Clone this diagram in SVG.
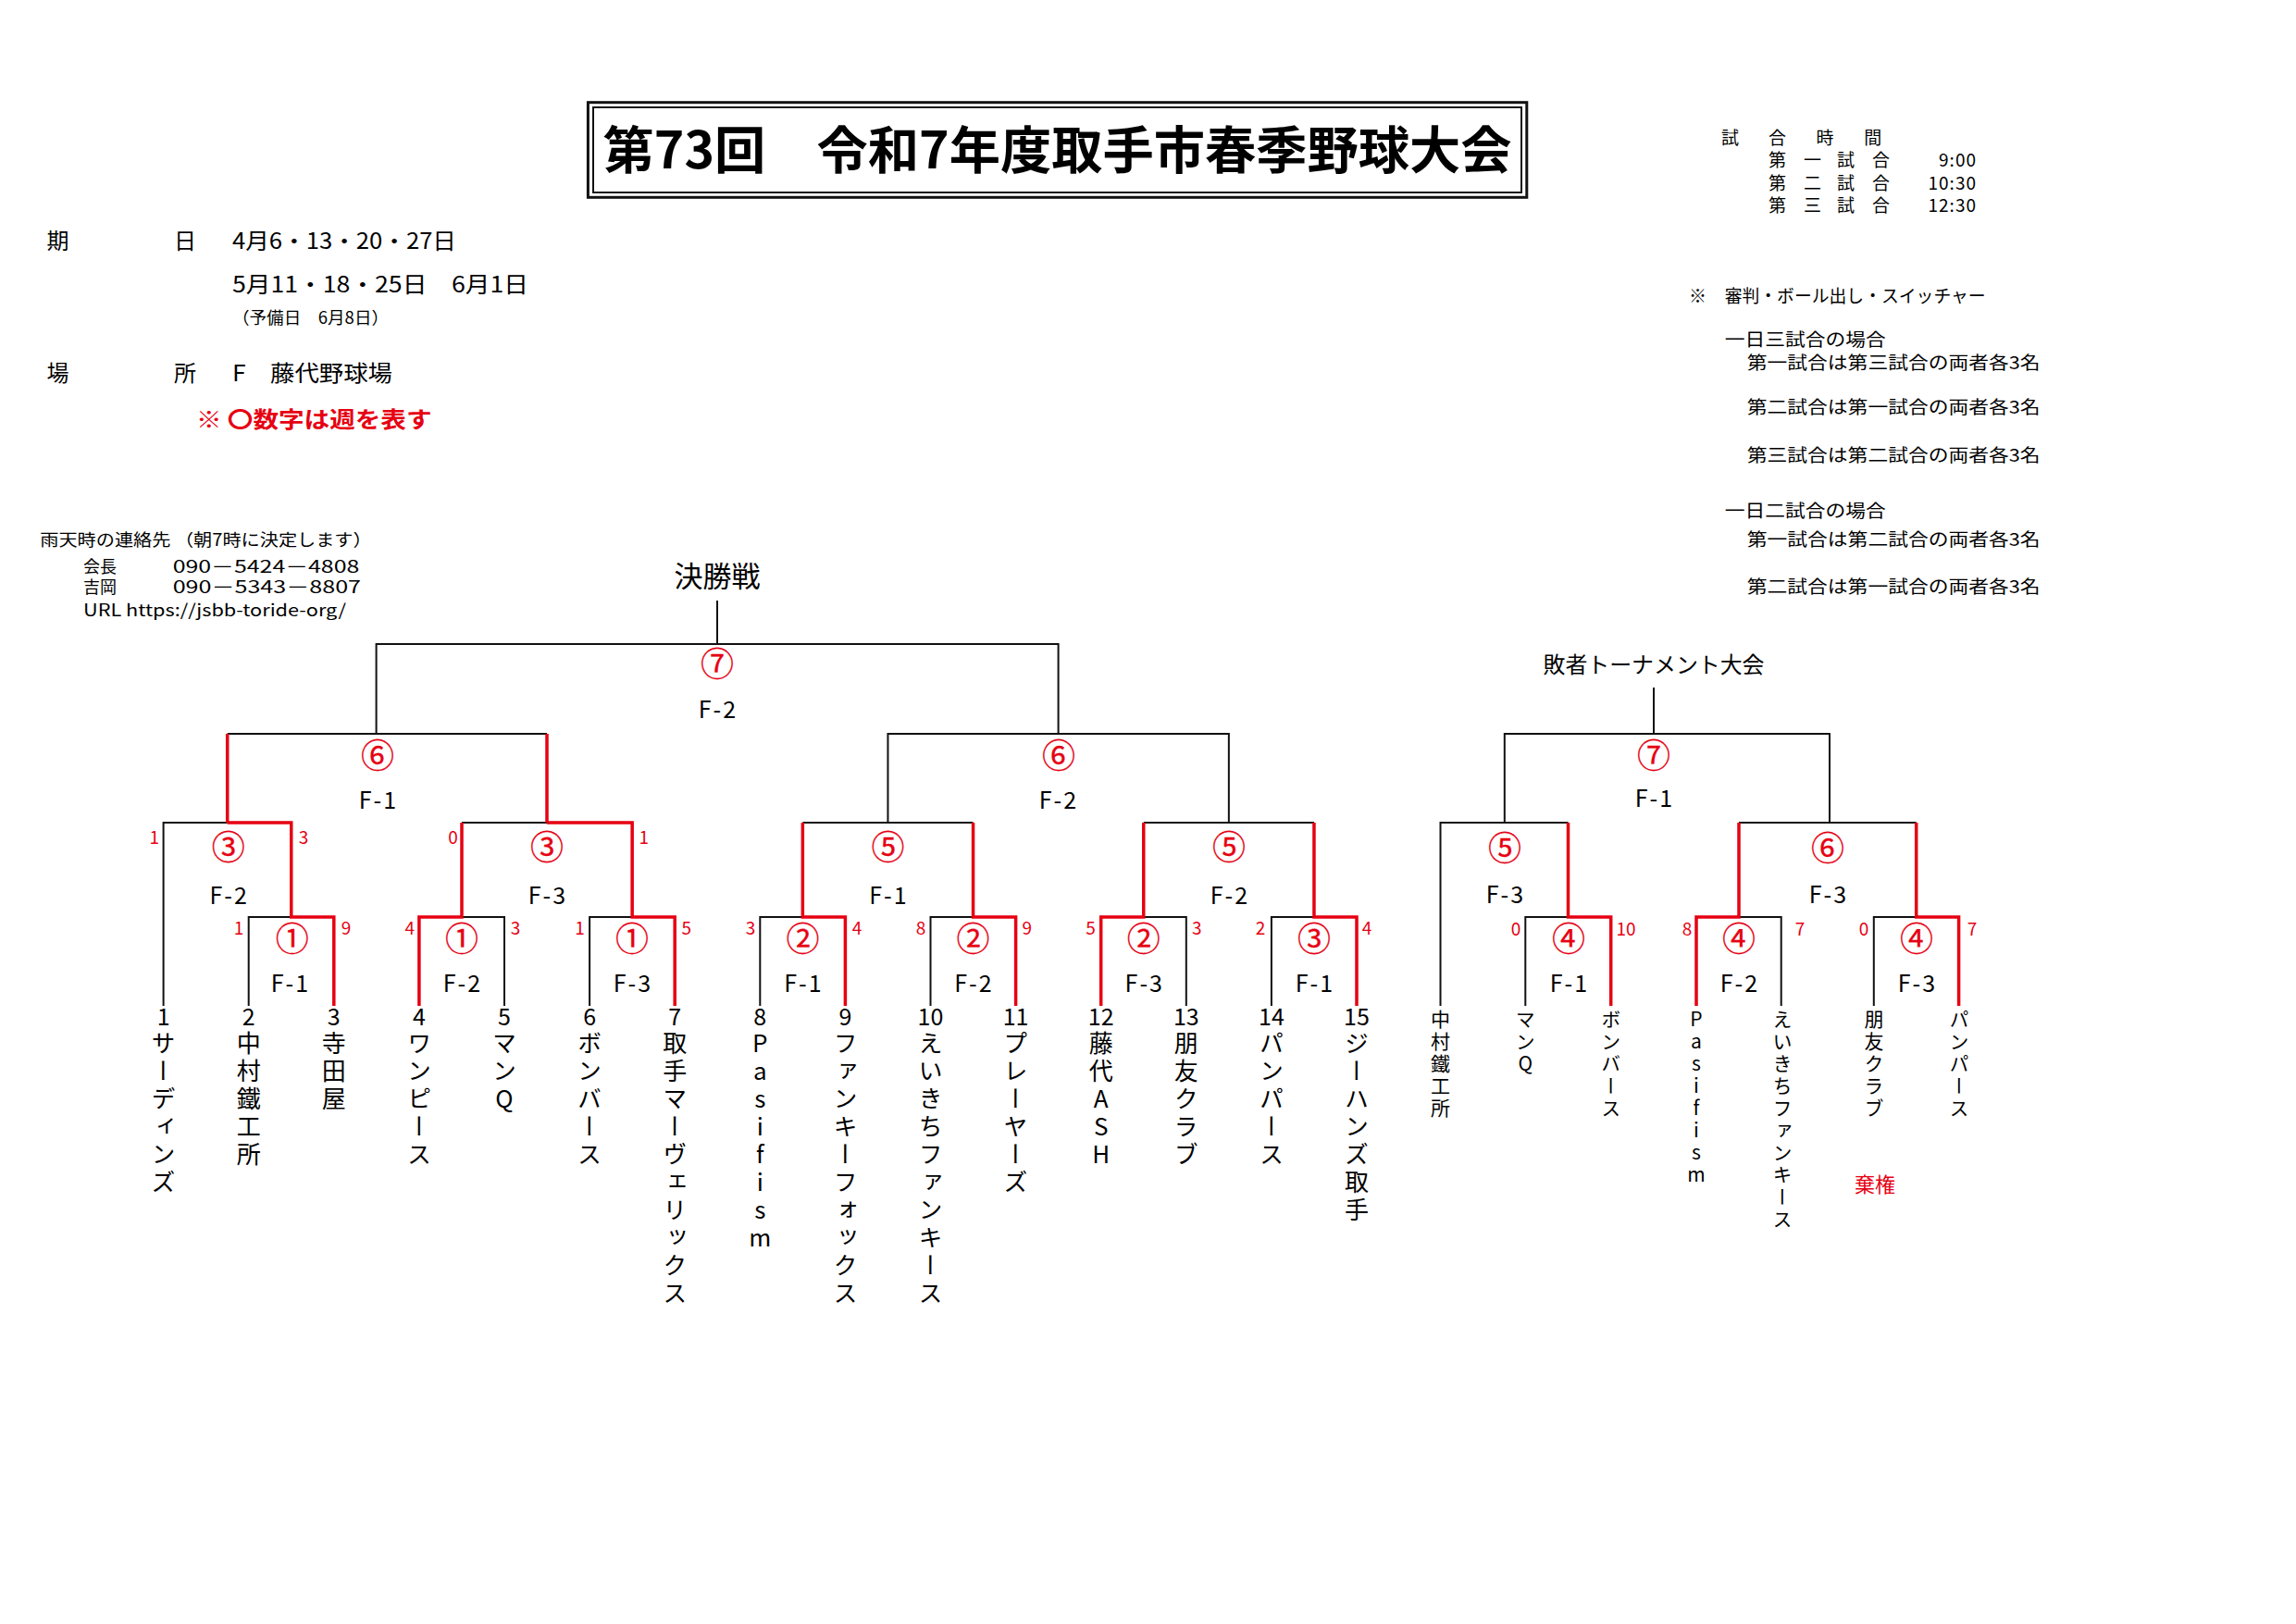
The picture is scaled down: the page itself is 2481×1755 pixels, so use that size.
<svg xmlns="http://www.w3.org/2000/svg" width="2481" height="1755" viewBox="0 0 2481 1755">
<style>
text{font-family:"Noto Sans CJK JP","Noto Sans CJK SC",sans-serif;fill:#000}
.bk{fill:none;stroke:#111;stroke-width:2}
.rd{fill:none;stroke:#e60012;stroke-width:3.5}
.red{fill:#e60012}
.c{font-size:36px;fill:#e60012;stroke:#e60012;stroke-width:0.3;text-anchor:middle}
.f{font-size:25px;letter-spacing:2px;text-anchor:middle}
.s{font-size:19px;fill:#e60012;text-anchor:middle}
.n{font-size:25px;text-anchor:middle}
.v{font-size:26px;writing-mode:vertical-rl;text-orientation:upright}
.vl{font-size:21px;writing-mode:vertical-rl;text-orientation:upright}
.m{text-anchor:middle}
</style>
<rect width="2481" height="1755" fill="#fff"/>

<g id="title">
<rect x="635.4" y="110.7" width="1014.4" height="102.6" fill="none" stroke="#111" stroke-width="3"/>
<rect x="641" y="116" width="1003" height="92" fill="none" stroke="#111" stroke-width="2"/>
<text x="1142.6" y="182" font-size="55" font-weight="700" text-anchor="middle" textLength="982" lengthAdjust="spacingAndGlyphs">第73回　令和7年度取手市春季野球大会</text>
</g>

<g id="info-left" font-size="24">
<text x="62.5" y="269" class="m">期</text>
<text x="200" y="269" class="m">日</text>
<text x="251" y="269" textLength="242" lengthAdjust="spacingAndGlyphs">4月6・13・20・27日</text>
<text x="251" y="316" textLength="320" lengthAdjust="spacingAndGlyphs">5月11・18・25日　6月1日</text>
<text x="251" y="350" font-size="18" textLength="169" lengthAdjust="spacingAndGlyphs">（予備日　6月8日）</text>
<text x="62.5" y="412" class="m">場</text>
<text x="200" y="412" class="m">所</text>
<text x="251" y="412" textLength="173" lengthAdjust="spacingAndGlyphs">F　藤代野球場</text>
<text x="212" y="462" class="red" font-weight="700" textLength="254.5" lengthAdjust="spacingAndGlyphs">※ 〇数字は週を表す</text>
</g>

<g id="contact" font-size="18">
<text x="43.3" y="590" textLength="358.4" lengthAdjust="spacingAndGlyphs">雨天時の連絡先 （朝7時に決定します）</text>
<text x="90" y="618.5">会長</text>
<text x="186.7" y="618.5" textLength="201.6" lengthAdjust="spacingAndGlyphs">090－5424－4808</text>
<text x="90" y="640.5">吉岡</text>
<text x="186.7" y="640.5" textLength="203.3" lengthAdjust="spacingAndGlyphs">090－5343－8807</text>
<text x="90" y="665.5" textLength="284" lengthAdjust="spacingAndGlyphs">URL https://jsbb-toride-org/</text>
</g>

<g id="info-right" font-size="19">
<text x="1869.6 1920.5 1972 2023.8" y="156" class="m">試合時間</text>
<text x="1920.5 1958.4 1994.6 2032.4" y="180" class="m">第一試合</text>
<text x="2136" y="180" text-anchor="end" letter-spacing="1">9:00</text>
<text x="1920.5 1958.4 1994.6 2032.4" y="204.5" class="m">第二試合</text>
<text x="2136" y="204.5" text-anchor="end" letter-spacing="1">10:30</text>
<text x="1920.5 1958.4 1994.6 2032.4" y="229" class="m">第三試合</text>
<text x="2136" y="229" text-anchor="end" letter-spacing="1">12:30</text>
<text x="1834.4" y="327" class="m">※</text>
<text x="1863.7" y="327" textLength="282" lengthAdjust="spacingAndGlyphs">審判・ボール出し・スイッチャー</text>
<g font-size="19">
<text x="1863.7" y="373.5" textLength="174" lengthAdjust="spacingAndGlyphs">一日三試合の場合</text>
<text x="1887.8" y="399" textLength="316.8" lengthAdjust="spacingAndGlyphs">第一試合は第三試合の両者各3名</text>
<text x="1887.8" y="447" textLength="316.8" lengthAdjust="spacingAndGlyphs">第二試合は第一試合の両者各3名</text>
<text x="1887.8" y="499" textLength="316.8" lengthAdjust="spacingAndGlyphs">第三試合は第二試合の両者各3名</text>
<text x="1863.7" y="558.5" textLength="174" lengthAdjust="spacingAndGlyphs">一日二試合の場合</text>
<text x="1887.8" y="590" textLength="316.8" lengthAdjust="spacingAndGlyphs">第一試合は第二試合の両者各3名</text>
<text x="1887.8" y="641" textLength="316.8" lengthAdjust="spacingAndGlyphs">第二試合は第一試合の両者各3名</text>
</g>
</g>

<g id="connectors">
<path class="bk" d="M775 649V696M406.6 793V696H1143.6V793M245.7 793H591M959.45 889V793H1327.85V889M176.6 1087V889H245.7M499 889H591M867.35 889H1051.55M1235.75 889H1419.95M268.7 1087V991H314.75M499 991H545V1087M637.1 1087V991H683.15M821.3 1087V991H867.35M1005.5 1087V991H1051.55M1235.75 991H1281.8V1087M1373.9 1087V991H1419.95"/>
<path class="rd" d="M245.7 793V889M591 793V889M245.7 889H314.75V991H360.8V1087M452.9 1087V991H499V889M591 889H683.15V991H729.2V1087M867.35 889V991H913.4V1087M1051.55 889V991H1097.6V1087M1189.7 1087V991H1235.75V889M1419.95 889V991H1466V1087"/>
<path class="bk" d="M1787 743V793M1625.8 889V793H1977V889M1556.5 1087V889H1694.5M1879 889H2070.7M1648.3 1087V991H1694.5M1879 991H1924.7V1087M2024.8 1087V991H2070.7"/>
<path class="rd" d="M1694.5 889V991H1740.7V1087M1833 1087V991H1879V889M2070.7 889V991H2116.6V1087"/>
</g>

<g id="main-title"><text x="775" y="634" font-size="31" class="m">決勝戦</text></g>

<g id="m-final"><text class="c" x="775" y="731">⑦</text><text class="f" x="776" y="776">F-2</text></g>
<g id="m-sf1"><text class="c" x="408" y="830">⑥</text><text class="f" x="409" y="874">F-1</text></g>
<g id="m-sf2"><text class="c" x="1144" y="830">⑥</text><text class="f" x="1144" y="874">F-2</text></g>
<g id="m-qf1"><text class="c" x="246.7" y="929">③</text><text class="f" x="247.7" y="977">F-2</text><text class="s" x="166.7" y="912">1</text><text class="s" x="328" y="912">3</text></g>
<g id="m-qf2"><text class="c" x="591" y="929">③</text><text class="f" x="592" y="977">F-3</text><text class="s" x="489.6" y="912">0</text><text class="s" x="695.8" y="912">1</text></g>
<g id="m-qf3"><text class="c" x="959.5" y="929">⑤</text><text class="f" x="960.5" y="977">F-1</text></g>
<g id="m-qf4"><text class="c" x="1328" y="929">⑤</text><text class="f" x="1329" y="977">F-2</text></g>
<g id="m-r1"><text class="c" x="315.7" y="1028">①</text><text class="f" x="314" y="1072">F-1</text><text class="s" x="258" y="1010">1</text><text class="s" x="374" y="1010">9</text></g>
<g id="m-r2"><text class="c" x="499" y="1028">①</text><text class="f" x="500" y="1072">F-2</text><text class="s" x="442.7" y="1010">4</text><text class="s" x="557" y="1010">3</text></g>
<g id="m-r3"><text class="c" x="683" y="1028">①</text><text class="f" x="684" y="1072">F-3</text><text class="s" x="626.6" y="1010">1</text><text class="s" x="741.8" y="1010">5</text></g>
<g id="m-r4"><text class="c" x="867.4" y="1028">②</text><text class="f" x="868.4" y="1072">F-1</text><text class="s" x="811" y="1010">3</text><text class="s" x="926" y="1010">4</text></g>
<g id="m-r5"><text class="c" x="1051.5" y="1028">②</text><text class="f" x="1052.5" y="1072">F-2</text><text class="s" x="994.9" y="1010">8</text><text class="s" x="1109.7" y="1010">9</text></g>
<g id="m-r6"><text class="c" x="1235.8" y="1028">②</text><text class="f" x="1236.8" y="1072">F-3</text><text class="s" x="1178.5" y="1010">5</text><text class="s" x="1293.3" y="1010">3</text></g>
<g id="m-r7"><text class="c" x="1420" y="1028">③</text><text class="f" x="1421" y="1072">F-1</text><text class="s" x="1362" y="1010">2</text><text class="s" x="1477" y="1010">4</text></g>

<g id="team-1"><text class="n" x="176.6" y="1108">1</text><text class="v" x="176.6" y="1114 1144 1174 1204 1234 1264">サーディンズ</text></g>
<g id="team-2"><text class="n" x="268.7" y="1108">2</text><text class="v" x="268.7" y="1114 1144 1174 1204 1234">中村鐵工所</text></g>
<g id="team-3"><text class="n" x="360.8" y="1108">3</text><text class="v" x="360.8" y="1114 1144 1174">寺田屋</text></g>
<g id="team-4"><text class="n" x="452.9" y="1108">4</text><text class="v" x="452.9" y="1114 1144 1174 1204 1234">ワンピース</text></g>
<g id="team-5"><text class="n" x="545" y="1108">5</text><text class="v" x="545" y="1114 1144 1174">マンQ</text></g>
<g id="team-6"><text class="n" x="637.1" y="1108">6</text><text class="v" x="637.1" y="1114 1144 1174 1204 1234">ボンバース</text></g>
<g id="team-7"><text class="n" x="729.2" y="1108">7</text><text class="v" x="729.2" y="1114 1144 1174 1204 1234 1264 1294 1324 1354 1384">取手マーヴェリックス</text></g>
<g id="team-8"><text class="n" x="821.3" y="1108">8</text><text class="v" x="821.3" y="1114 1144 1174 1204 1234 1264 1294 1324">Pasifism</text></g>
<g id="team-9"><text class="n" x="913.4" y="1108">9</text><text class="v" x="913.4" y="1114 1144 1174 1204 1234 1264 1294 1324 1354 1384">ファンキーフォックス</text></g>
<g id="team-10"><text class="n" x="1005.5" y="1108">10</text><text class="v" x="1005.5" y="1114 1144 1174 1204 1234 1264 1294 1324 1354 1384">えいきちファンキース</text></g>
<g id="team-11"><text class="n" x="1097.6" y="1108">11</text><text class="v" x="1097.6" y="1114 1144 1174 1204 1234 1264">プレーヤーズ</text></g>
<g id="team-12"><text class="n" x="1189.7" y="1108">12</text><text class="v" x="1189.7" y="1114 1144 1174 1204 1234">藤代ASH</text></g>
<g id="team-13"><text class="n" x="1281.8" y="1108">13</text><text class="v" x="1281.8" y="1114 1144 1174 1204 1234">朋友クラブ</text></g>
<g id="team-14"><text class="n" x="1373.9" y="1108">14</text><text class="v" x="1373.9" y="1114 1144 1174 1204 1234">パンパース</text></g>
<g id="team-15"><text class="n" x="1466" y="1108">15</text><text class="v" x="1466" y="1114 1144 1174 1204 1234 1264 1294">ジーハンズ取手</text></g>

<g id="loser-title"><text x="1787" y="727" font-size="24" class="m" textLength="239" lengthAdjust="spacingAndGlyphs">敗者トーナメント大会</text></g>
<g id="l-final"><text class="c" x="1787" y="830">⑦</text><text class="f" x="1788" y="872">F-1</text></g>
<g id="l-sf1"><text class="c" x="1626" y="930">⑤</text><text class="f" x="1627" y="976">F-3</text></g>
<g id="l-sf2"><text class="c" x="1975" y="930">⑥</text><text class="f" x="1976" y="976">F-3</text></g>
<g id="l-r1"><text class="c" x="1695" y="1028">④</text><text class="f" x="1696" y="1072">F-1</text><text class="s" x="1638" y="1011">0</text><text class="s" x="1757" y="1011">10</text></g>
<g id="l-r2"><text class="c" x="1879" y="1028">④</text><text class="f" x="1880" y="1072">F-2</text><text class="s" x="1823" y="1011">8</text><text class="s" x="1945" y="1011">7</text></g>
<g id="l-r3"><text class="c" x="2071" y="1028">④</text><text class="f" x="2072" y="1072">F-3</text><text class="s" x="2014" y="1011">0</text><text class="s" x="2131" y="1011">7</text></g>

<g id="l-team-1"><text class="vl" x="1556.5" y="1090.5 1114.5 1138.5 1162.5 1186.5">中村鐵工所</text></g>
<g id="l-team-2"><text class="vl" x="1648.3" y="1090.5 1114.5 1138.5">マンQ</text></g>
<g id="l-team-3"><text class="vl" x="1740.7" y="1090.5 1114.5 1138.5 1162.5 1186.5">ボンバース</text></g>
<g id="l-team-4"><text class="vl" x="1833" y="1090.5 1114.5 1138.5 1162.5 1186.5 1210.5 1234.5 1258.5">Pasifism</text></g>
<g id="l-team-5"><text class="vl" x="1926" y="1090.5 1114.5 1138.5 1162.5 1186.5 1210.5 1234.5 1258.5 1282.5 1306.5">えいきちファンキース</text></g>
<g id="l-team-6"><text class="vl" x="2025" y="1090.5 1114.5 1138.5 1162.5 1186.5">朋友クラブ</text><text x="2026" y="1288" font-size="22" class="m red">棄権</text></g>
<g id="l-team-7"><text class="vl" x="2117" y="1090.5 1114.5 1138.5 1162.5 1186.5">パンパース</text></g>
</svg>
